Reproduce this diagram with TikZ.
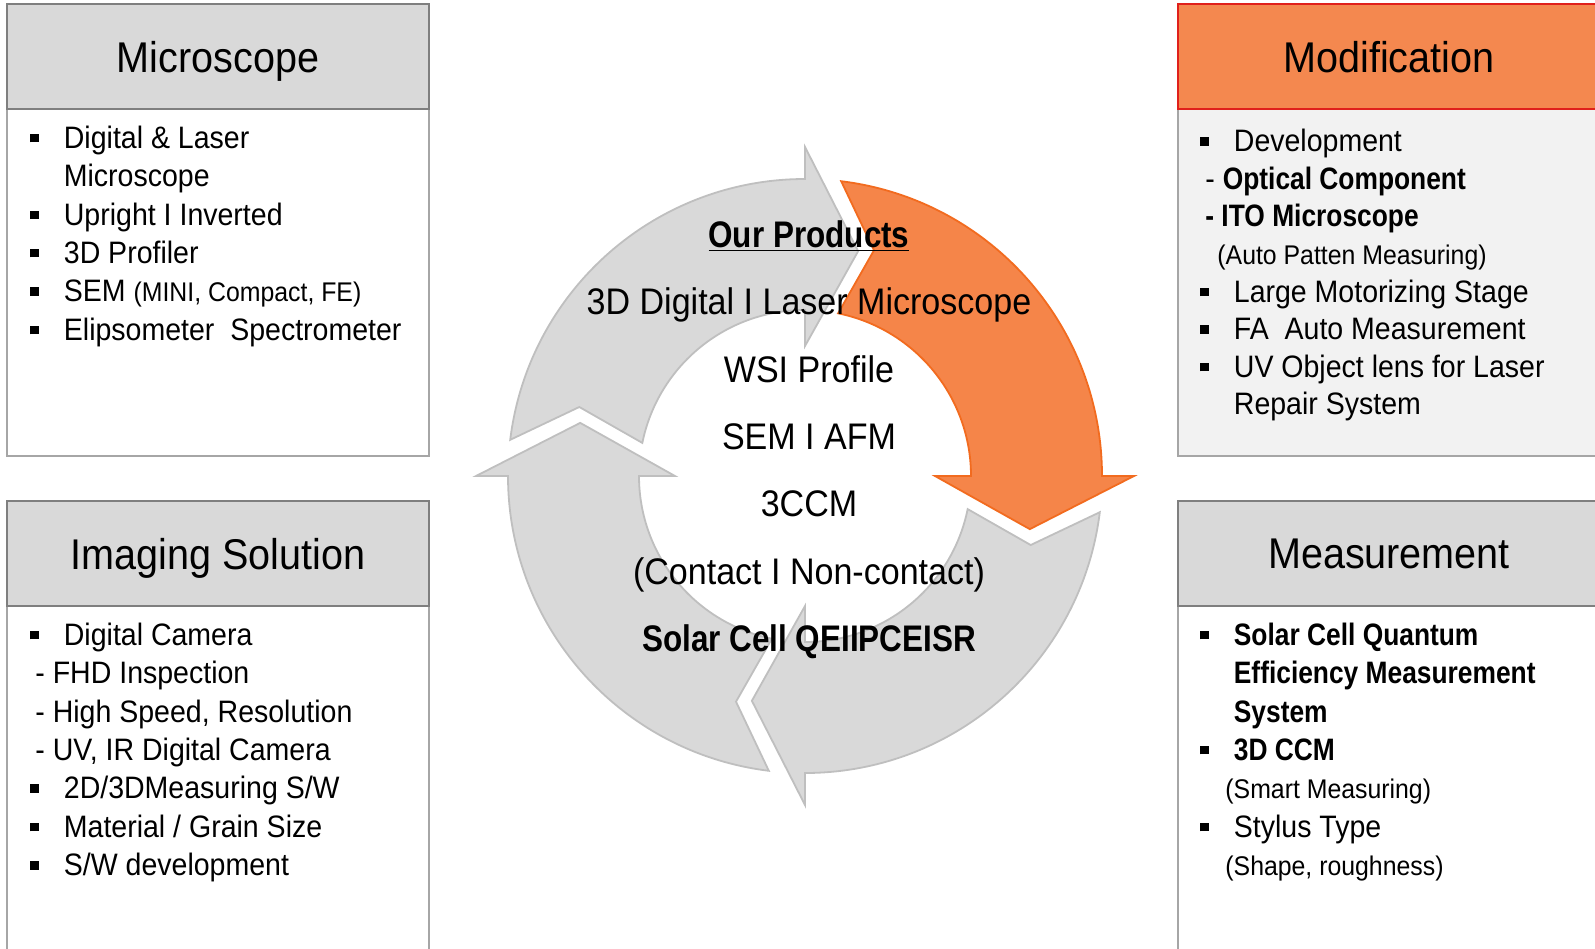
\documentclass[tikz,border=0pt]{standalone}
\usepackage{fontspec}
\setmainfont{Liberation Sans}[FakeStretch=0.92, BoldFeatures={FakeStretch=0.85}]
\usetikzlibrary{positioning}
\definecolor{hdrgray}{HTML}{D9D9D9}
\definecolor{edgegray}{HTML}{7F7F7F}
\definecolor{lightedge}{HTML}{A6A6A6}
\definecolor{hdrorange}{HTML}{F4884F}
\definecolor{hdrred}{HTML}{E0201B}
\definecolor{bodygray}{HTML}{F2F2F2}
\definecolor{ringgray}{HTML}{D9D9D9}
\definecolor{ringedge}{HTML}{BFBFBF}
\definecolor{ringorange}{HTML}{F58549}
\definecolor{ringorangeedge}{HTML}{F26B1F}
\tikzstyle{hdr} = [rectangle, anchor=north west, minimum width=211pt, minimum height=52.5pt, inner sep=0pt, text depth=0pt, text centered, draw=edgegray, line width=1pt, fill=hdrgray, font=\fontsize{21.5}{25}\selectfont]
\tikzstyle{panel} = [rectangle, anchor=north west, minimum width=211pt, inner sep=0pt, draw=lightedge, line width=1pt, fill=white]
\tikzstyle{list} = [anchor=north west, inner sep=0pt, align=left, font=\fontsize{15.5}{19.2}\selectfont]
\tikzstyle{prodtext} = [anchor=north, inner sep=0pt, align=center, font=\fontsize{18.5}{33.67}\selectfont]
\tikzstyle{grayarrow} = [fill=ringgray, draw=ringedge, line width=0.9pt, line join=miter]
\tikzstyle{orangearrow} = [fill=ringorange, draw=ringorangeedge, line width=0.9pt, line join=miter]
\newcommand{\bul}{\makebox[16.75pt][l]{\rule[3pt]{4.2pt}{4.2pt}}}
\newcommand{\smalltxt}[1]{{\fontsize{13.5}{19.2}\selectfont #1}}

\begin{document}
\begin{tikzpicture}[x=0.5pt, y=0.5pt]
      \useasboundingbox (0,0) rectangle (1595,-948);

      \begin{scope}[shift={(805,-476)}]
        \foreach \h/\sty in {90/grayarrow, 0/orangearrow, -90/grayarrow, 180/grayarrow}
          \draw [\sty] (\h+83:297) arc [start angle=\h+83, end angle=\h, radius=297] -- (\h:329) -- (\h-13.3:231) -- (\h:130) -- (\h:166) arc [start angle=\h, end angle=\h+78.5, radius=166] -- (\h+73:236) -- cycle;
      \end{scope}

      \node (products) [prodtext] at (809,-200) {\strut\underline{\textbf{Our Products}}\\ 3D Digital I Laser Microscope\\ WSI Profile\\ SEM I AFM\\ 3CCM\\ (Contact I Non-contact)\\ \textbf{Solar Cell QEIIPCEISR}};

      \node (micbody) [panel, minimum height=173.5pt] at (6,-108) {};
      \node (mic) [hdr] at (6,-3) {Microscope};
      \node (miclist) [list] at (30,-121) {\strut\bul Digital \& Laser\\ \hspace*{16.75pt}Microscope\\ \bul Upright I Inverted\\ \bul 3D Profiler\\ \bul SEM \smalltxt{(MINI, Compact, FE)}\\ \bul Elipsometer\ \ Spectrometer};

      \node (imgbody) [panel, minimum height=177.5pt] at (6,-605) {};
      \node (img) [hdr] at (6,-500) {Imaging Solution};
      \node (imglist) [list] at (30,-618) {\strut\bul Digital Camera\\ \hspace*{2.5pt}- FHD Inspection\\ \hspace*{2.5pt}- High Speed, Resolution\\ \hspace*{2.5pt}- UV, IR Digital Camera\\ \bul 2D/3DMeasuring S/W\\ \bul Material / Grain Size\\ \bul S/W development};

      \node (modbody) [panel, fill=bodygray, minimum height=173.5pt] at (1177,-108) {};
      \node (mod) [hdr, fill=hdrorange, draw=hdrred] at (1177,-3) {Modification};
      \node (modlist) [list, font=\fontsize{15.5}{18.8}\selectfont] at (1200,-125) {\strut\bul Development\\ \hspace*{2.5pt}- \textbf{Optical Component}\\ \hspace*{2.5pt}\textbf{- ITO Microscope}\\ \hspace*{8.5pt}\smalltxt{(Auto Patten Measuring)}\\ \bul Large Motorizing Stage\\ \bul FA\ \ Auto Measurement\\ \bul UV Object lens for Laser\\ \hspace*{16.75pt}Repair System};

      \node (measbody) [panel, minimum height=177.5pt] at (1177,-605) {};
      \node (meas) [hdr] at (1177,-500) {Measurement};
      \node (measlist) [list] at (1200,-618) {\strut\bul\textbf{Solar Cell Quantum}\\ \hspace*{16.75pt}\textbf{Efficiency Measurement}\\ \hspace*{16.75pt}\textbf{System}\\ \bul\textbf{3D CCM}\\ \hspace*{12.5pt}\smalltxt{(Smart Measuring)}\\ \bul Stylus Type\\ \hspace*{12.5pt}\smalltxt{(Shape, roughness)}};
    \end{tikzpicture}
\end{document}
